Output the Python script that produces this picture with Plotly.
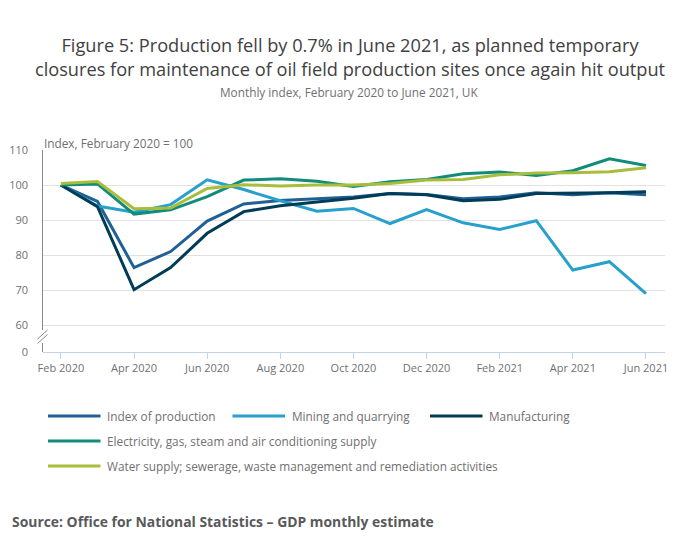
import plotly.graph_objects as go

months = ["Feb 2020", "Mar 2020", "Apr 2020", "May 2020", "Jun 2020", "Jul 2020",
          "Aug 2020", "Sep 2020", "Oct 2020", "Nov 2020", "Dec 2020", "Jan 2021",
          "Feb 2021", "Mar 2021", "Apr 2021", "May 2021", "Jun 2021"]

index_of_production = [100.0, 95.3, 76.4, 81.0, 89.7, 94.6, 95.6, 96.0, 96.6, 97.6,
                       97.3, 96.1, 96.6, 97.8, 97.2, 97.8, 97.2]
mining = [100.0, 94.0, 92.2, 94.4, 101.5, 98.7, 95.5, 92.5, 93.3, 89.0,
          93.0, 89.2, 87.3, 89.8, 75.7, 78.1, 69.0]
manufacturing = [100.0, 93.8, 70.1, 76.4, 86.2, 92.4, 94.1, 95.2, 96.2, 97.6,
                 97.2, 95.5, 95.9, 97.6, 97.6, 97.8, 98.1]
electricity = [100.0, 100.3, 91.7, 92.9, 96.7, 101.4, 101.8, 101.1, 99.6, 100.9,
               101.6, 103.2, 103.7, 102.7, 104.1, 107.5, 105.6]
water = [100.4, 101.0, 93.2, 93.4, 99.0, 100.1, 99.7, 100.0, 100.0, 100.4,
         101.4, 101.6, 102.9, 103.4, 103.5, 103.8, 104.9]

series_names = ["Index of production", "Mining and quarrying", "Manufacturing",
                "Electricity, gas, steam and air conditioning supply",
                "Water supply; sewerage, waste management and remediation activities"]
series_values = [index_of_production, mining, manufacturing, electricity, water]
colors = ["#206095", "#27a0cc", "#003c57", "#118c7b", "#a8bd3a"]

x_ticks = months[::2]
y_tickvals = [52.3, 60, 70, 80, 90, 100, 110]
y_ticktext = ["0", "60", "70", "80", "90", "100", "110"]

# page body margin offset (8px) compensation
OFF = 8
W, H = 700 - OFF, 549 - OFF
# plot area in page pixels: x 43..665, y 150..352
PL, PR, PT, PB = 43, 665, 150, 352
L, T = PL - OFF, PT - OFF
R, B = W - (PR - OFF), H - (PB - OFF)
PW, PH = PR - PL, PB - PT


def px(x):
    return (x - PL) / PW


def py(y):
    return (PB - y) / PH


GREY = "#707071"
AXIS = "#8a8a8c"
FONT = "Open Sans"

fig = go.Figure()
for name, vals, col in zip(series_names, series_values, colors):
    fig.add_trace(go.Scatter(x=months, y=vals, name=name, mode="lines",
                             line=dict(color=col, width=3), showlegend=False,
                             hoverinfo="skip"))

shapes = []
annotations = []

# y axis line with break
shapes.append(dict(type="line", xref="paper", yref="paper", x0=px(42.5), x1=px(42.5),
                   y0=py(150), y1=py(330), line=dict(color=AXIS, width=1)))
shapes.append(dict(type="line", xref="paper", yref="paper", x0=px(42.5), x1=px(42.5),
                   y0=py(343), y1=py(352), line=dict(color=AXIS, width=1)))
for dy in (0, 4.5):
    shapes.append(dict(type="line", xref="paper", yref="paper",
                       x0=px(37.5), x1=px(47.5), y0=py(339 + dy), y1=py(330 + dy),
                       line=dict(color=AXIS, width=1)))

# manual legend
legend_pos = [(48, 416), (232.5, 416), (430, 416), (48, 441), (48, 466)]
for name, col, (lx, ly) in zip(series_names, colors, legend_pos):
    shapes.append(dict(type="line", xref="paper", yref="paper",
                       x0=px(lx), x1=px(lx + 52.5), y0=py(ly), y1=py(ly),
                       line=dict(color=col, width=3)))
    annotations.append(dict(text=name, xref="paper", yref="paper", x=px(lx + 57),
                            y=py(ly), xanchor="left", yanchor="middle", showarrow=False,
                            font=dict(family=FONT, size=11.8, color=GREY)))

annotations.append(dict(text="Monthly index, February 2020 to June 2021, UK",
                        xref="paper", yref="paper", x=px(349), y=py(92),
                        xanchor="center", yanchor="middle", showarrow=False,
                        font=dict(family=FONT, size=11.8, color=GREY)))
annotations.append(dict(text="Index, February 2020 = 100", xref="paper", yref="paper",
                        x=px(42), y=py(143), xanchor="left", yanchor="middle",
                        showarrow=False, font=dict(family=FONT, size=11.8, color=GREY)))
annotations.append(dict(text="<b>Source: Office for National Statistics – GDP monthly estimate</b>",
                        xref="paper", yref="paper", x=px(10), y=py(521),
                        xanchor="left", yanchor="middle", showarrow=False,
                        font=dict(family=FONT, size=13.9, color="#58595b")))

fig.update_layout(
    width=W, height=H,
    margin=dict(l=L, r=R, t=T, b=B, autoexpand=False),
    paper_bgcolor="white", plot_bgcolor="white",
    title=dict(text="Figure 5: Production fell by 0.7% in June 2021, as planned temporary<br>"
                    "closures for maintenance of oil field production sites once again hit output",
               x=px(350), xref="paper", xanchor="center", y=1 - (52 - OFF) / H, yref="container",
               yanchor="middle", font=dict(family=FONT, size=18.2, color="#414042")),
    font=dict(family=FONT, color=GREY),
    shapes=shapes, annotations=annotations,
    xaxis=dict(type="category", range=[-0.49, 16.52], tickmode="array", tickvals=x_ticks,
               ticks="outside", ticklen=6, tickcolor="#c3d3ea", showgrid=False,
               showline=True, linecolor="#c3d3ea", linewidth=1, automargin=False,
               tickfont=dict(family=FONT, size=11, color=GREY), zeroline=False),
    yaxis=dict(range=[52.3, 110], tickmode="array", tickvals=y_tickvals, ticktext=y_ticktext,
               showgrid=True, gridcolor="#e2e2e3", gridwidth=1, showline=False,
               zeroline=False, ticks="", ticklabelstandoff=14, automargin=False,
               tickfont=dict(family=FONT, size=11, color=GREY)),
)

fig.write_html("out.html")
